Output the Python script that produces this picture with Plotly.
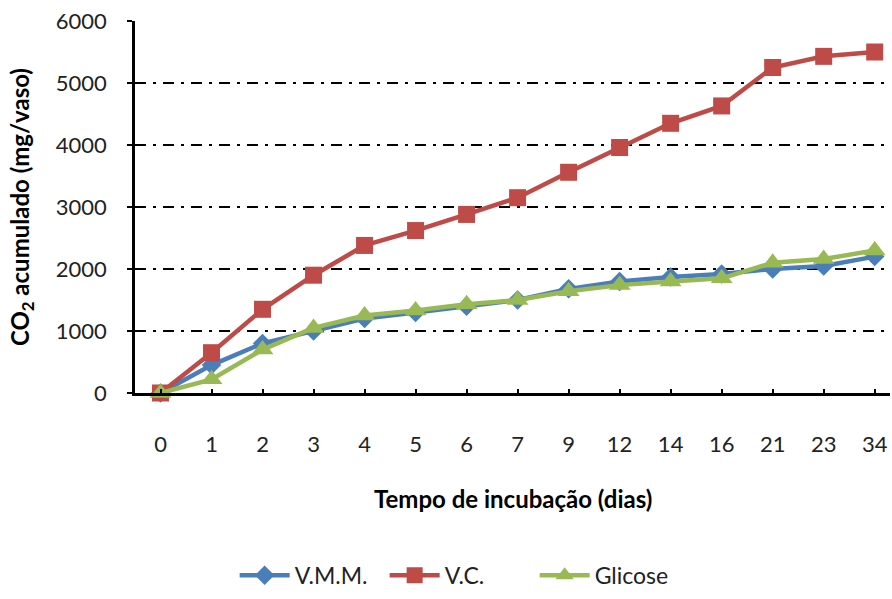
import plotly.graph_objects as go

dias = ["0", "1", "2", "3", "4", "5", "6", "7", "9", "12", "14", "16", "21", "23", "34"]
vmm = [0, 450, 800, 1000, 1200, 1300, 1400, 1500, 1680, 1800, 1870, 1920, 2000, 2050, 2200]
vc = [0, 650, 1350, 1900, 2380, 2620, 2880, 3150, 3560, 3960, 4350, 4630, 5250, 5430, 5500]
glicose = [0, 220, 700, 1050, 1250, 1330, 1430, 1500, 1640, 1740, 1800, 1850, 2100, 2160, 2300]
yticks = [0, 1000, 2000, 3000, 4000, 5000, 6000]

fig = go.Figure()
fig.add_trace(go.Scatter(x=dias, y=vmm, name="V.M.M.", mode="lines+markers",
                         line=dict(color="#4A7EBB", width=4.5),
                         marker=dict(symbol="diamond", size=15, color="#4A7EBB"),
                         cliponaxis=False))
fig.add_trace(go.Scatter(x=dias, y=vc, name="V.C.", mode="lines+markers",
                         line=dict(color="#BE4B48", width=4.5),
                         marker=dict(symbol="square", size=17, color="#BE4B48"),
                         cliponaxis=False))
fig.add_trace(go.Scatter(x=dias, y=glicose, name="Glicose", mode="lines+markers",
                         line=dict(color="#98B954", width=4.5),
                         marker=dict(symbol="triangle-up", size=19, color="#98B954"),
                         cliponaxis=False))

font_family = "Lato, Open Sans, sans-serif"

fig.update_layout(
    width=892, height=599,
    margin=dict(l=135, r=2, t=21, b=201),
    paper_bgcolor="white", plot_bgcolor="white",
    font=dict(family=font_family, color="#000000"),
    showlegend=True,
    legend=dict(orientation="h", x=0.43, xanchor="center", y=-0.49, yanchor="middle",
                font=dict(size=23, color="#222222"), itemwidth=50, tracegroupgap=0,
                entrywidth=85, entrywidthmode="pixels"),
    xaxis=dict(
        type="category", range=[-0.5, 14.3],
        showline=True, linecolor="black", linewidth=2.5,
        showgrid=False, zeroline=False,
        ticks="inside", ticklen=4, tickwidth=2, tickcolor="black",
        tickfont=dict(size=22, color="#222222"), ticklabelstandoff=30,
    ),
    yaxis=dict(
        range=[0, 6000], tickvals=yticks,
        showline=True, linecolor="black", linewidth=2.5,
        showgrid=True, gridcolor="black", gridwidth=2, griddash="11px,7px,3px,7px",
        zeroline=False,
        ticks="outside", ticklen=5, tickwidth=2, tickcolor="black",
        tickfont=dict(size=22, color="#222222"), ticklabelstandoff=16,
    ),
    annotations=[
        dict(text="<b>Tempo de incubação (dias)</b>", xref="paper", yref="paper",
             x=0.5, y=-0.284, xanchor="center", yanchor="middle", showarrow=False,
             font=dict(size=24, color="#000000")),
        dict(text="<b>CO<sub>2</sub> acumulado (mg/vaso)</b>", xref="paper", yref="paper",
             x=-0.15, y=0.499, xanchor="center", yanchor="middle", showarrow=False,
             textangle=-90, font=dict(size=24, color="#000000")),
    ],
)

fig.write_html("out.html")
